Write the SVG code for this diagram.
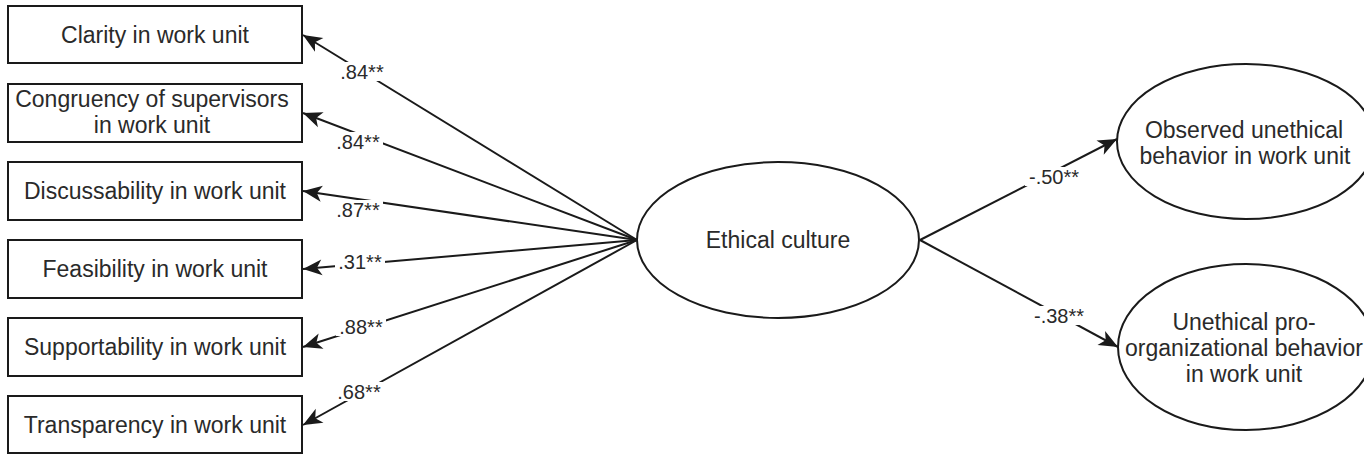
<svg xmlns="http://www.w3.org/2000/svg" width="1364" height="455" viewBox="0 0 1364 455">
<style>
.box{fill:#fff;stroke:#1a1a1a;stroke-width:2}
.ell{fill:#fff;stroke:#1a1a1a;stroke-width:2}
.t{font-family:"Liberation Sans",Arial,sans-serif;font-size:23px;fill:#2a2a2a;text-anchor:middle}
.lbl{font-family:"Liberation Sans",Arial,sans-serif;font-size:20px;fill:#2a2a2a;text-anchor:middle}
.edge{stroke:#1a1a1a;stroke-width:2;fill:none;marker-end:url(#arr)}
.bg{fill:#fff}
</style>
<defs>
<marker id="arr" markerUnits="userSpaceOnUse" markerWidth="40" markerHeight="40" viewBox="-20 -20 40 40" refX="0" refY="0" orient="auto" overflow="visible">
<path d="M0,0 L-19,-8 L-14,0 L-19,8 Z" fill="#1a1a1a"/>
</marker>
</defs>
<rect width="1364" height="455" fill="#fff"/>
<g id="connectors">
<line class="edge" x1="637" y1="240" x2="303" y2="35"/>
<line class="edge" x1="637" y1="240" x2="303" y2="113"/>
<line class="edge" x1="637" y1="240" x2="303" y2="191"/>
<line class="edge" x1="637" y1="240" x2="303" y2="269"/>
<line class="edge" x1="637" y1="240" x2="303" y2="347"/>
<line class="edge" x1="637" y1="240" x2="303" y2="425"/>
<line class="edge" x1="920" y1="240" x2="1117" y2="139"/>
<line class="edge" x1="920" y1="240" x2="1118" y2="347"/>
<rect class="bg" x="337" y="62" width="50" height="19"/>
<text class="lbl" x="362" y="79">.84**</text>
<rect class="bg" x="333" y="132" width="50" height="19"/>
<text class="lbl" x="358" y="149">.84**</text>
<rect class="bg" x="333" y="200" width="50" height="19"/>
<text class="lbl" x="358" y="217">.87**</text>
<rect class="bg" x="335" y="252" width="50" height="19"/>
<text class="lbl" x="360" y="269">.31**</text>
<rect class="bg" x="336" y="317" width="50" height="19"/>
<text class="lbl" x="361" y="334">.88**</text>
<rect class="bg" x="334" y="382" width="50" height="19"/>
<text class="lbl" x="359" y="399">.68**</text>
<rect class="bg" x="1025" y="167" width="58" height="19"/>
<text class="lbl" x="1054" y="184">-.50**</text>
<rect class="bg" x="1030" y="306" width="58" height="19"/>
<text class="lbl" x="1059" y="323">-.38**</text>
</g>
<g id="clarity"><rect class="box" x="8" y="6" width="294" height="57"/><text class="t" x="155" y="43">Clarity in work unit</text></g>
<g id="congruency"><rect class="box" x="8" y="84" width="294" height="58"/><text class="t" x="152" y="107">Congruency of supervisors</text><text class="t" x="152" y="133">in work unit</text></g>
<g id="discussability"><rect class="box" x="8" y="162" width="294" height="58"/><text class="t" x="155" y="199">Discussability in work unit</text></g>
<g id="feasibility"><rect class="box" x="8" y="240" width="294" height="58"/><text class="t" x="155" y="277">Feasibility in work unit</text></g>
<g id="supportability"><rect class="box" x="8" y="318" width="294" height="58"/><text class="t" x="155" y="355">Supportability in work unit</text></g>
<g id="transparency"><rect class="box" x="8" y="396" width="294" height="57"/><text class="t" x="155" y="433">Transparency in work unit</text></g>
<g id="ethical"><ellipse class="ell" cx="778" cy="240" rx="141" ry="78"/><text class="t" x="778" y="248">Ethical culture</text></g>
<g id="observed"><ellipse class="ell" cx="1246" cy="141.5" rx="129" ry="77.5"/><text class="t" x="1244" y="138">Observed unethical</text><text class="t" x="1245" y="164">behavior in work unit</text></g>
<g id="upb"><ellipse class="ell" cx="1246" cy="347" rx="128" ry="83"/><text class="t" x="1244" y="330">Unethical pro-</text><text class="t" x="1244" y="356">organizational behavior</text><text class="t" x="1244" y="382">in work unit</text></g>
</svg>
